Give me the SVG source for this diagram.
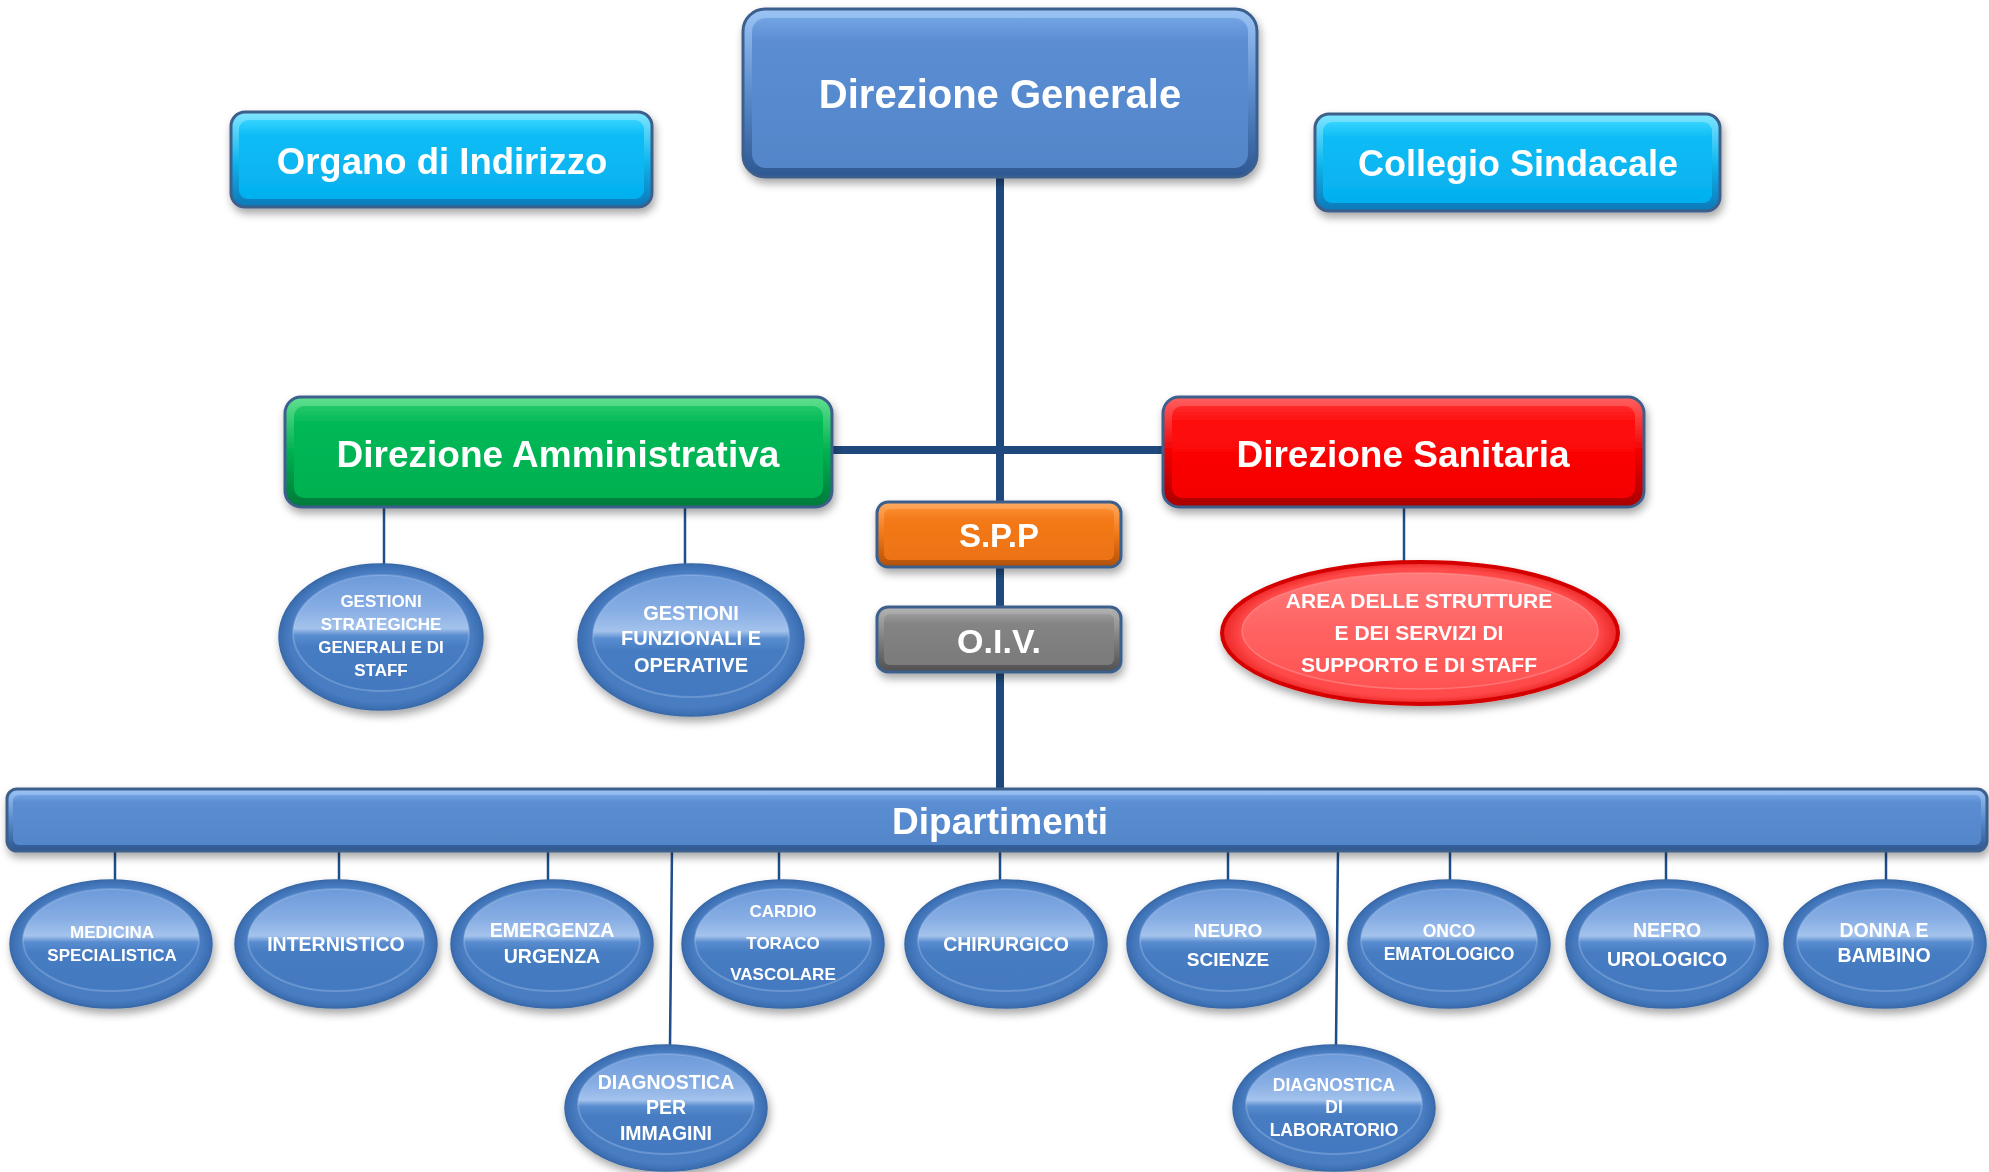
<svg xmlns="http://www.w3.org/2000/svg" width="1989" height="1172" viewBox="0 0 1989 1172">
<defs>
  <filter id="sh" x="-10%" y="-20%" width="120%" height="150%">
    <feDropShadow dx="2" dy="5" stdDeviation="4" flood-color="#000" flood-opacity="0.35"/>
  </filter>
  <linearGradient id="bluO" x1="0" y1="0" x2="0" y2="1">
    <stop offset="0" stop-color="#9cc4f5"/><stop offset="0.5" stop-color="#5a8bcc"/><stop offset="1" stop-color="#2d5791"/>
  </linearGradient>
  <linearGradient id="bluI" x1="0" y1="0" x2="0" y2="1">
    <stop offset="0" stop-color="#72a4e4"/><stop offset="0.15" stop-color="#5b8dd2"/><stop offset="1" stop-color="#5286c9"/>
  </linearGradient>
  <linearGradient id="cyaO" x1="0" y1="0" x2="0" y2="1">
    <stop offset="0" stop-color="#7fe6ff"/><stop offset="0.5" stop-color="#12b8f0"/><stop offset="1" stop-color="#0a78b8"/>
  </linearGradient>
  <linearGradient id="cyaI" x1="0" y1="0" x2="0" y2="1">
    <stop offset="0" stop-color="#35d3ff"/><stop offset="0.2" stop-color="#0cbcf5"/><stop offset="1" stop-color="#05b0ee"/>
  </linearGradient>
  <linearGradient id="grnO" x1="0" y1="0" x2="0" y2="1">
    <stop offset="0" stop-color="#5fe08f"/><stop offset="0.5" stop-color="#00b050"/><stop offset="1" stop-color="#00793a"/>
  </linearGradient>
  <linearGradient id="grnI" x1="0" y1="0" x2="0" y2="1">
    <stop offset="0" stop-color="#22c86a"/><stop offset="0.2" stop-color="#00b856"/><stop offset="1" stop-color="#00b050"/>
  </linearGradient>
  <linearGradient id="redO" x1="0" y1="0" x2="0" y2="1">
    <stop offset="0" stop-color="#ff6060"/><stop offset="0.5" stop-color="#f00000"/><stop offset="1" stop-color="#a80000"/>
  </linearGradient>
  <linearGradient id="redI" x1="0" y1="0" x2="0" y2="1">
    <stop offset="0" stop-color="#ff2a2a"/><stop offset="0.2" stop-color="#ff0a0a"/><stop offset="1" stop-color="#f40000"/>
  </linearGradient>
  <linearGradient id="orgO" x1="0" y1="0" x2="0" y2="1">
    <stop offset="0" stop-color="#ffaa60"/><stop offset="0.5" stop-color="#f07818"/><stop offset="1" stop-color="#b0500a"/>
  </linearGradient>
  <linearGradient id="orgI" x1="0" y1="0" x2="0" y2="1">
    <stop offset="0" stop-color="#fa8c30"/><stop offset="0.2" stop-color="#f47a1a"/><stop offset="1" stop-color="#ec7212"/>
  </linearGradient>
  <linearGradient id="gryO" x1="0" y1="0" x2="0" y2="1">
    <stop offset="0" stop-color="#b4b4b4"/><stop offset="0.5" stop-color="#7f7f7f"/><stop offset="1" stop-color="#505050"/>
  </linearGradient>
  <linearGradient id="gryI" x1="0" y1="0" x2="0" y2="1">
    <stop offset="0" stop-color="#9a9a9a"/><stop offset="0.2" stop-color="#848484"/><stop offset="1" stop-color="#7a7a7a"/>
  </linearGradient>
  <radialGradient id="eRim" cx="0.5" cy="0.5" r="0.52">
    <stop offset="0" stop-color="#4a7fc4"/><stop offset="0.85" stop-color="#497dc2"/><stop offset="1" stop-color="#3466a8"/>
  </radialGradient>
  <linearGradient id="eIn" x1="0" y1="0" x2="0" y2="1">
    <stop offset="0" stop-color="#6c9ada"/><stop offset="0.3" stop-color="#88aee4"/><stop offset="0.46" stop-color="#a4c3ec"/><stop offset="0.52" stop-color="#5a8dd0"/><stop offset="0.62" stop-color="#467cc2"/><stop offset="1" stop-color="#4379c0"/>
  </linearGradient>
  <radialGradient id="rRim" cx="0.5" cy="0.5" r="0.55">
    <stop offset="0" stop-color="#ff5a5a"/><stop offset="0.82" stop-color="#ff4a4a"/><stop offset="1" stop-color="#d80000"/>
  </radialGradient>
  <linearGradient id="rIn" x1="0" y1="0" x2="0" y2="1">
    <stop offset="0" stop-color="#ff7a7a"/><stop offset="0.5" stop-color="#ff6262"/><stop offset="1" stop-color="#ff5252"/>
  </linearGradient>
</defs>
<style>
  .t { font-family: "Liberation Sans", Arial, sans-serif; font-weight: bold; fill: #ffffff; text-anchor: middle; }
  .bx { stroke: #3d5f8c; stroke-width: 3; }
  .in { stroke: none; }
  .thick { stroke: #1f497d; stroke-width: 8; fill: none; }
  .thin { stroke: #1f4e8c; stroke-width: 2.5; fill: none; }
  .erim { fill: url(#eRim); stroke: #3a69a8; stroke-width: 1.5; }
  .ein { fill: url(#eIn); stroke: #b9d2f3; stroke-opacity: 0.3; stroke-width: 2; }
</style>

<rect width="1989" height="1172" fill="#ffffff"/>

<g id="connectors">
  <line class="thick" x1="1000" y1="170" x2="1000" y2="792"/>
  <line class="thick" x1="828" y1="450" x2="1167" y2="450"/>
  <line class="thin" x1="384" y1="505" x2="384" y2="566"/>
  <line class="thin" x1="685" y1="505" x2="685" y2="566"/>
  <line class="thin" x1="1404" y1="505" x2="1404" y2="564"/>
  <line class="thin" x1="115" y1="849" x2="115" y2="881"/>
  <line class="thin" x1="339" y1="849" x2="339" y2="881"/>
  <line class="thin" x1="548" y1="849" x2="548" y2="881"/>
  <line class="thin" x1="779" y1="849" x2="779" y2="881"/>
  <line class="thin" x1="1000" y1="849" x2="1000" y2="881"/>
  <line class="thin" x1="1228" y1="849" x2="1228" y2="881"/>
  <line class="thin" x1="1450" y1="849" x2="1450" y2="881"/>
  <line class="thin" x1="1666" y1="849" x2="1666" y2="881"/>
  <line class="thin" x1="1886" y1="849" x2="1886" y2="881"/>
  <line class="thin" x1="672" y1="849" x2="670" y2="1046"/>
  <line class="thin" x1="1338" y1="849" x2="1336" y2="1046"/>
</g>

<g id="direzione-generale" filter="url(#sh)">
  <rect class="bx" x="743" y="9" width="514" height="168" rx="22" fill="url(#bluO)"/>
  <rect class="in" x="752" y="18" width="496" height="150" rx="14" fill="url(#bluI)"/>
  <text class="t" x="1000" y="108" font-size="40">Direzione Generale</text>
</g>

<g id="organo-di-indirizzo" filter="url(#sh)">
  <rect class="bx" x="231" y="112" width="421" height="95" rx="14" fill="url(#cyaO)"/>
  <rect class="in" x="239" y="120" width="405" height="79" rx="9" fill="url(#cyaI)"/>
  <text class="t" x="442" y="174" font-size="36.5">Organo di Indirizzo</text>
</g>

<g id="collegio-sindacale" filter="url(#sh)">
  <rect class="bx" x="1315" y="114" width="405" height="97" rx="14" fill="url(#cyaO)"/>
  <rect class="in" x="1323" y="122" width="389" height="81" rx="9" fill="url(#cyaI)"/>
  <text class="t" x="1518" y="176" font-size="36">Collegio Sindacale</text>
</g>

<g id="direzione-amministrativa" filter="url(#sh)">
  <rect class="bx" x="285" y="397" width="547" height="110" rx="16" fill="url(#grnO)"/>
  <rect class="in" x="294" y="406" width="529" height="92" rx="10" fill="url(#grnI)"/>
  <text class="t" x="558" y="467" font-size="37">Direzione Amministrativa</text>
</g>

<g id="direzione-sanitaria" filter="url(#sh)">
  <rect class="bx" x="1163" y="397" width="481" height="110" rx="16" fill="url(#redO)"/>
  <rect class="in" x="1172" y="406" width="463" height="92" rx="10" fill="url(#redI)"/>
  <text class="t" x="1403" y="467" font-size="37">Direzione Sanitaria</text>
</g>

<g id="spp" filter="url(#sh)">
  <rect class="bx" x="877" y="502" width="244" height="65" rx="11" fill="url(#orgO)"/>
  <rect class="in" x="884" y="509" width="230" height="51" rx="6" fill="url(#orgI)"/>
  <text class="t" x="999" y="547" font-size="33">S.P.P</text>
</g>

<g id="oiv" filter="url(#sh)">
  <rect class="bx" x="877" y="607" width="244" height="65" rx="11" fill="url(#gryO)"/>
  <rect class="in" x="884" y="614" width="230" height="51" rx="6" fill="url(#gryI)"/>
  <text class="t" x="999" y="653" font-size="34">O.I.V.</text>
</g>

<g id="gestioni-strategiche" filter="url(#sh)">
  <ellipse class="erim" cx="381" cy="637" rx="102" ry="73"/>
  <ellipse class="ein" cx="381" cy="633" rx="88" ry="58"/>
  <text class="t" font-size="17"><tspan x="381" y="607">GESTIONI</tspan><tspan x="381" y="630">STRATEGICHE</tspan><tspan x="381" y="653">GENERALI E DI</tspan><tspan x="381" y="676">STAFF</tspan></text>
</g>

<g id="gestioni-funzionali" filter="url(#sh)">
  <ellipse class="erim" cx="691" cy="640" rx="113" ry="76"/>
  <ellipse class="ein" cx="691" cy="636" rx="98" ry="61"/>
  <text class="t" font-size="20"><tspan x="691" y="620">GESTIONI</tspan><tspan x="691" y="645">FUNZIONALI E</tspan><tspan x="691" y="672">OPERATIVE</tspan></text>
</g>

<g id="area-strutture" filter="url(#sh)">
  <ellipse cx="1420" cy="633" rx="198" ry="71" fill="url(#rRim)" stroke="#d40000" stroke-width="4"/>
  <ellipse cx="1420" cy="631" rx="178" ry="58" fill="url(#rIn)" stroke="#ffb0b0" stroke-opacity="0.4" stroke-width="1.5"/>
  <text class="t" font-size="21"><tspan x="1419" y="608">AREA DELLE STRUTTURE</tspan><tspan x="1419" y="640">E DEI SERVIZI DI</tspan><tspan x="1419" y="672">SUPPORTO E DI STAFF</tspan></text>
</g>

<g id="dipartimenti" filter="url(#sh)">
  <rect class="bx" x="7" y="789" width="1980" height="62" rx="10" fill="url(#bluO)"/>
  <rect class="in" x="13" y="795" width="1968" height="50" rx="6" fill="url(#bluI)"/>
  <text class="t" x="1000" y="834" font-size="37">Dipartimenti</text>
</g>

<g id="medicina-specialistica" filter="url(#sh)">
  <ellipse class="erim" cx="111" cy="944" rx="101" ry="64"/>
  <ellipse class="ein" cx="111" cy="940" rx="88" ry="51"/>
  <text class="t" font-size="17"><tspan x="112" y="938">MEDICINA</tspan><tspan x="112" y="961">SPECIALISTICA</tspan></text>
</g>

<g id="internistico" filter="url(#sh)">
  <ellipse class="erim" cx="336" cy="944" rx="101" ry="64"/>
  <ellipse class="ein" cx="336" cy="940" rx="88" ry="51"/>
  <text class="t" x="336" y="951" font-size="19.5">INTERNISTICO</text>
</g>

<g id="emergenza-urgenza" filter="url(#sh)">
  <ellipse class="erim" cx="552" cy="944" rx="101" ry="64"/>
  <ellipse class="ein" cx="552" cy="940" rx="88" ry="51"/>
  <text class="t" font-size="19.5"><tspan x="552" y="937">EMERGENZA</tspan><tspan x="552" y="963">URGENZA</tspan></text>
</g>

<g id="cardio-toraco-vascolare" filter="url(#sh)">
  <ellipse class="erim" cx="783" cy="944" rx="101" ry="64"/>
  <ellipse class="ein" cx="783" cy="940" rx="88" ry="51"/>
  <text class="t" font-size="17"><tspan x="783" y="917">CARDIO</tspan><tspan x="783" y="949">TORACO</tspan><tspan x="783" y="980">VASCOLARE</tspan></text>
</g>

<g id="chirurgico" filter="url(#sh)">
  <ellipse class="erim" cx="1006" cy="944" rx="101" ry="64"/>
  <ellipse class="ein" cx="1006" cy="940" rx="88" ry="51"/>
  <text class="t" x="1006" y="951" font-size="19.5">CHIRURGICO</text>
</g>

<g id="neuro-scienze" filter="url(#sh)">
  <ellipse class="erim" cx="1228" cy="944" rx="101" ry="64"/>
  <ellipse class="ein" cx="1228" cy="940" rx="88" ry="51"/>
  <text class="t" font-size="19"><tspan x="1228" y="937">NEURO</tspan><tspan x="1228" y="966">SCIENZE</tspan></text>
</g>

<g id="onco-ematologico" filter="url(#sh)">
  <ellipse class="erim" cx="1449" cy="944" rx="101" ry="64"/>
  <ellipse class="ein" cx="1449" cy="940" rx="88" ry="51"/>
  <text class="t" font-size="17.5"><tspan x="1449" y="937">ONCO</tspan><tspan x="1449" y="960">EMATOLOGICO</tspan></text>
</g>

<g id="nefro-urologico" filter="url(#sh)">
  <ellipse class="erim" cx="1667" cy="944" rx="101" ry="64"/>
  <ellipse class="ein" cx="1667" cy="940" rx="88" ry="51"/>
  <text class="t" font-size="19.5"><tspan x="1667" y="937">NEFRO</tspan><tspan x="1667" y="966">UROLOGICO</tspan></text>
</g>

<g id="donna-e-bambino" filter="url(#sh)">
  <ellipse class="erim" cx="1885" cy="944" rx="101" ry="64"/>
  <ellipse class="ein" cx="1885" cy="940" rx="88" ry="51"/>
  <text class="t" font-size="19.5"><tspan x="1884" y="937">DONNA E</tspan><tspan x="1884" y="962">BAMBINO</tspan></text>
</g>

<g id="diagnostica-per-immagini" filter="url(#sh)">
  <ellipse class="erim" cx="666" cy="1108" rx="101" ry="63"/>
  <ellipse class="ein" cx="666" cy="1104" rx="88" ry="50"/>
  <text class="t" font-size="19.5"><tspan x="666" y="1089">DIAGNOSTICA</tspan><tspan x="666" y="1114">PER</tspan><tspan x="666" y="1140">IMMAGINI</tspan></text>
</g>

<g id="diagnostica-di-laboratorio" filter="url(#sh)">
  <ellipse class="erim" cx="1334" cy="1108" rx="101" ry="63"/>
  <ellipse class="ein" cx="1334" cy="1104" rx="88" ry="50"/>
  <text class="t" font-size="17.5"><tspan x="1334" y="1091">DIAGNOSTICA</tspan><tspan x="1334" y="1113">DI</tspan><tspan x="1334" y="1136">LABORATORIO</tspan></text>
</g>
</svg>
